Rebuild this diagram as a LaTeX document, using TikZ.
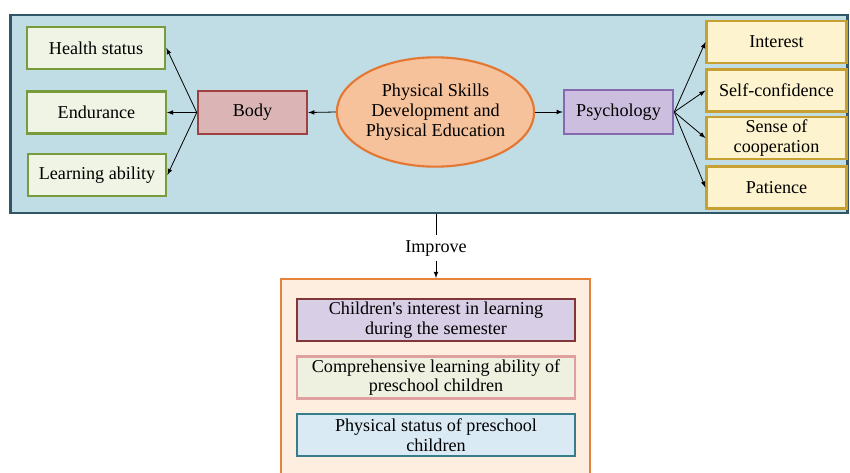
\documentclass[tikz,border=0pt]{standalone}
\usepackage{fontspec}
\setmainfont{Liberation Serif}
\usepackage{tikz}
\usepackage{xcolor}
\usetikzlibrary{shapes,arrows}

\definecolor{panelfill}{RGB}{192,220,229}
\definecolor{paneldraw}{RGB}{48,86,104}
\definecolor{bodyitemfill}{RGB}{240,244,228}
\definecolor{bodyitemdraw}{RGB}{120,155,60}
\definecolor{bodyfill}{RGB}{219,181,181}
\definecolor{bodydraw}{RGB}{160,65,65}
\definecolor{corefill}{RGB}{246,194,156}
\definecolor{coredraw}{RGB}{228,120,50}
\definecolor{psychfill}{RGB}{204,190,222}
\definecolor{psychdraw}{RGB}{135,105,175}
\definecolor{psychitemfill}{RGB}{253,243,206}
\definecolor{psychitemdraw}{RGB}{200,160,50}
\definecolor{resultfill}{RGB}{253,238,224}
\definecolor{resultdraw}{RGB}{228,130,60}
\definecolor{interestfill}{RGB}{216,206,230}
\definecolor{interestdraw}{RGB}{130,55,55}
\definecolor{abilityfill}{RGB}{238,240,224}
\definecolor{abilitydraw}{RGB}{225,160,160}
\definecolor{statusfill}{RGB}{218,234,244}
\definecolor{statusdraw}{RGB}{55,125,140}

\begin{document}
\begin{tikzpicture}[x=0.75pt, y=-0.75pt]
\tikzstyle{box} = [rectangle, draw, inner sep = 0pt, align = center, line width = 1.6pt,
	font = \fontsize{13.6pt}{14.8pt}\selectfont]
\tikzstyle{body item} = [box, fill = bodyitemfill, draw = bodyitemdraw, minimum width = 104pt, minimum height = 31.5pt]
\tikzstyle{psych item} = [box, fill = psychitemfill, draw = psychitemdraw, minimum width = 105pt, minimum height = 31.5pt]
\tikzstyle{result item} = [box, minimum width = 208pt, minimum height = 31.5pt]
\tikzstyle{link} = [-latex, line width = 0.6pt]

\clip (0,0) rectangle (850,472);
\fill[white] (0,0) rectangle (850,472);

\node[rectangle, draw = paneldraw, fill = panelfill, line width = 2.2pt,
	minimum width = 628pt, minimum height = 148.5pt] (panel) at (429,114) {};

\node[body item] (health) at (96,48) {Health status};
\node[body item] (endurance) at (96.5,112.5) {Endurance};
\node[body item] (learning) at (97,175) {Learning ability};
\node[box, fill = bodyfill, draw = bodydraw, minimum width = 82pt, minimum height = 32pt] (body) at (252.5,112.5) {Body};

\node[ellipse, draw = coredraw, fill = corefill, line width = 1.6pt, inner sep = 0pt,
	minimum width = 146pt, minimum height = 82pt, align = center,
	font = \fontsize{13.6pt}{14.8pt}\selectfont] (core) at (435.5,112)
	{Physical Skills\\Development and\\Physical Education};

\node[box, fill = psychfill, draw = psychdraw, minimum width = 82pt, minimum height = 33pt] (psych) at (618.5,112) {Psychology};
\node[psych item] (interest) at (776.5,42) {Interest};
\node[psych item] (confidence) at (776.5,90.5) {Self-confidence};
\node[psych item] (cooperation) at (776.5,138) {Sense of\\cooperation};
\node[psych item] (patience) at (776.5,187.5) {Patience};

\draw[link] (core.west) -- (body.east);
\draw[link] (core.east) -- (psych.west);
\draw[link] (body.west) -- (health.east);
\draw[link] (body.west) -- (endurance.east);
\draw[link] (body.west) -- (learning.east);
\draw[link] (psych.east) -- (interest.west);
\draw[link] (psych.east) -- (confidence.west);
\draw[link] (psych.east) -- (cooperation.west);
\draw[link] (psych.east) -- (patience.west);

\node[font = \fontsize{13.6pt}{14.8pt}\selectfont] (improve) at (436,248) {Improve};

\node[rectangle, draw = resultdraw, fill = resultfill, line width = 1.6pt,
	minimum width = 232pt, minimum height = 160pt, anchor = north] (result) at (435.5,278) {};

\node[result item, fill = interestfill, draw = interestdraw] (children) at (436,320)
	{Children\textquotesingle s interest in learning\\during the semester};
\node[result item, fill = abilityfill, draw = abilitydraw] (ability) at (436,377.5)
	{Comprehensive learning ability of\\preschool children};
\node[result item, fill = statusfill, draw = statusdraw] (status) at (436,435)
	{Physical status of preschool\\children};

\draw[line width = 0.6pt] (improve.north |- panel.south) -- (improve.north);
\draw[link] (improve.south) -- (improve.south |- result.north);
\end{tikzpicture}
\end{document}
